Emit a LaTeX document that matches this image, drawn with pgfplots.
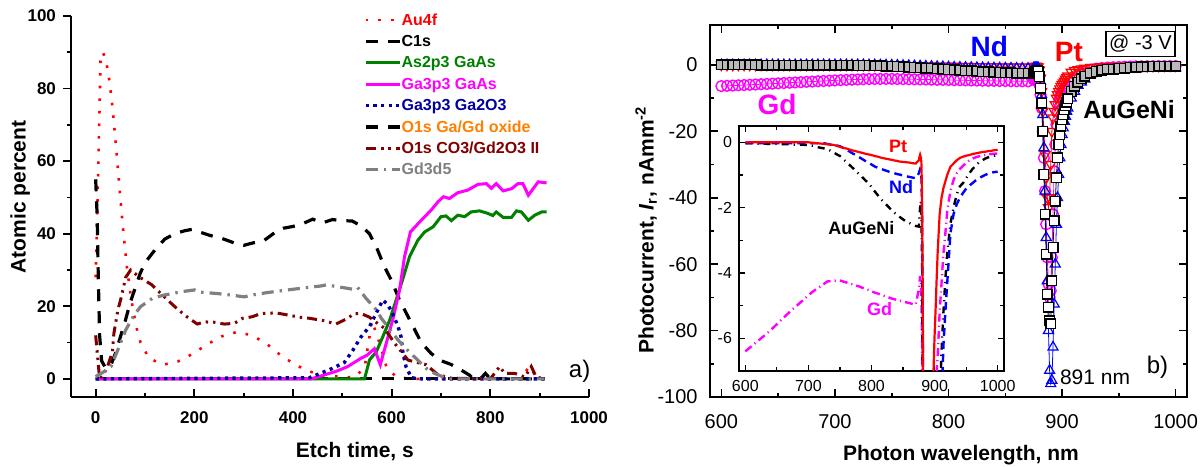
\documentclass[border=0pt]{standalone}
\usepackage{fontspec}
\setmainfont{Liberation Sans}
\usepackage{pgfplots}
\pgfplotsset{compat=1.18}
\usepackage{pgfplotstable}

\definecolor{cred}{RGB}{255,0,0}
\definecolor{cgreen}{RGB}{0,128,0}
\definecolor{cmag}{RGB}{255,0,255}
\definecolor{cnavy}{RGB}{0,0,160}
\definecolor{corange}{RGB}{255,128,0}
\definecolor{cdred}{RGB}{128,0,0}
\definecolor{cgray}{RGB}{128,128,128}
\definecolor{cblue}{RGB}{0,0,255}

% photocurrent, nA/mm^2 : Pt, Nd, AuGeNi, Gd
\pgfplotstableread{
wl Pt Nd Au Gd
600 0 -0.03 -0.03 -6.40
605 0 -0.03 -0.03 -6.32
610 0 -0.03 -0.03 -6.24
615 0 -0.03 -0.04 -6.16
620 0 -0.03 -0.04 -6.08
625 0 -0.03 -0.04 -6.00
630 0 -0.03 -0.04 -5.92
635 0 -0.03 -0.05 -5.84
640 0 -0.03 -0.05 -5.75
645 0 -0.03 -0.05 -5.66
650 0 -0.03 -0.05 -5.57
655 0 -0.03 -0.05 -5.47
660 0 -0.03 -0.06 -5.38
665 0 -0.03 -0.06 -5.29
670 0 -0.03 -0.06 -5.20
675 0 -0.03 -0.07 -5.11
680 0 -0.03 -0.07 -5.03
685 0 -0.03 -0.07 -4.94
690 0 -0.03 -0.07 -4.86
695 0 -0.03 -0.08 -4.77
700 0 -0.03 -0.08 -4.69
705 -0.01 -0.03 -0.10 -4.60
710 -0.02 -0.03 -0.12 -4.53
715 -0.03 -0.03 -0.15 -4.46
720 -0.04 -0.03 -0.17 -4.40
725 -0.05 -0.03 -0.19 -4.33
730 -0.06 -0.05 -0.21 -4.26
735 -0.07 -0.07 -0.26 -4.25
740 -0.08 -0.08 -0.31 -4.24
745 -0.11 -0.10 -0.37 -4.23
750 -0.14 -0.12 -0.42 -4.23
755 -0.17 -0.17 -0.51 -4.26
760 -0.19 -0.23 -0.60 -4.29
765 -0.22 -0.28 -0.69 -4.32
770 -0.25 -0.34 -0.78 -4.35
775 -0.27 -0.39 -0.87 -4.38
780 -0.30 -0.45 -0.97 -4.41
785 -0.32 -0.51 -1.06 -4.45
790 -0.35 -0.57 -1.16 -4.49
795 -0.37 -0.62 -1.25 -4.52
800 -0.39 -0.68 -1.37 -4.56
805 -0.42 -0.74 -1.50 -4.60
810 -0.44 -0.78 -1.62 -4.63
815 -0.47 -0.81 -1.74 -4.67
820 -0.49 -0.85 -1.84 -4.70
825 -0.51 -0.88 -1.94 -4.73
830 -0.53 -0.92 -2.04 -4.77
835 -0.55 -0.94 -2.14 -4.80
840 -0.57 -0.97 -2.21 -4.82
845 -0.59 -0.99 -2.29 -4.85
850 -0.60 -1.02 -2.36 -4.87
855 -0.61 -1.04 -2.43 -4.90
860 -0.62 -1.06 -2.47 -4.92
865 -0.64 -1.08 -2.52 -4.95
870 -0.65 -1.10 -2.56 -4.97
875 -0.55 -0.95 -2.58 -4.50
876 -0.45 -0.88 -2.30 -4.30
877 -0.38 -0.82 -2.00 -4.10
878 -0.45 -0.85 -1.80 -4.30
879 -0.60 -0.95 -2.00 -4.70
880 -1.5 -2 -3.5 -6
881 -4 -5 -7 -9
882 -8 -9 -11.5 -13
883 -14 -15 -20 -20
884 -20 -25 -33 -28
885 -27 -38 -45 -38
886 -34 -52 -57 -48
887 -40 -65 -69 -58
888 -43 -80 -73 -66
889 -40 -92 -77 -70
890 -30 -96 -78 -68
891 -20 -95 -65 -58
892 -16 -85 -55 -45
893 -14 -72 -47 -32
894 -12 -60 -41 -24
895 -10 -48 -34 -18
896 -9 -40 -28 -14
897 -8 -33 -24 -11.5
898 -7.2 -28 -21 -10
899 -6.5 -24 -18.5 -9
900 -5.9 -21 -16.5 -8.3
901 -5.4 -19 -15 -7.8
902 -4.9 -17 -13.5 -7.4
903 -4.3 -15.5 -12.3 -7.1
904 -3.8 -14 -11.2 -6.8
905 -3.3 -13 -10.2 -6.5
908 -2.2 -10 -8 -5.2
911 -1.7 -8 -6.4 -4.3
914 -1.4 -6.2 -5.2 -3.4
917 -1.2 -5.2 -4.2 -2.8
920 -1.0 -4.3 -3.4 -2.1
925 -0.75 -2.8 -2.5 -1.5
930 -0.65 -2.2 -2.0 -1.15
935 -0.55 -1.9 -1.6 -0.95
940 -0.48 -1.7 -1.35 -0.82
945 -0.44 -1.55 -1.25 -0.72
950 -0.41 -1.42 -1.1 -0.63
955 -0.39 -1.33 -0.95 -0.55
960 -0.36 -1.25 -0.82 -0.5
965 -0.34 -1.17 -0.72 -0.46
970 -0.32 -1.1 -0.62 -0.43
975 -0.30 -1.05 -0.56 -0.41
980 -0.29 -1.0 -0.5 -0.39
985 -0.27 -0.96 -0.46 -0.37
990 -0.26 -0.93 -0.43 -0.36
995 -0.24 -0.91 -0.41 -0.35
1000 -0.23 -0.9 -0.39 -0.34
}\photo

\tikzset{
  au/.style={cred, line width=1.3pt, dash pattern=on 1.3pt off 5pt},
  cs/.style={black, line width=1.6pt, dash pattern=on 6pt off 5pt},
  as/.style={cgreen, line width=1.5pt},
  gaas/.style={cmag, line width=1.5pt},
  gao/.style={cnavy, line width=1.7pt, dash pattern=on 1.6pt off 2.2pt},
  oxo/.style={black, line width=1.6pt, dash pattern=on 6pt off 5pt},
  co3/.style={cdred, line width=1.5pt, dash pattern=on 5pt off 2.5pt on 1.2pt off 2.5pt on 1.2pt off 2.5pt},
  gdd/.style={cgray, line width=1.6pt, dash pattern=on 6pt off 3pt on 1.2pt off 3pt},
}

\begin{document}
\begin{tikzpicture}
\path[use as bounding box] (0,0) rectangle (601pt,233pt);

% ---------- panel a) ----------
\begin{axis}[
  at={(35.5pt,34.5pt)}, anchor=south west, scale only axis,
  width=259pt, height=190.5pt,
  xmin=-50, xmax=1000, ymin=-5, ymax=100,
  axis x line=bottom, axis y line=left,
  axis line style={-, line width=1pt},
  xtick={0,200,...,1000}, ytick={0,20,...,100},
  minor x tick num=1, minor y tick num=1,
  tick align=inside, major tick length=3.8pt, minor tick length=2.2pt,
  tick style={line width=0.9pt, black},
  major y tick style={xshift=-3.8pt}, minor y tick style={xshift=-2.2pt},
  /pgf/number format/assume math mode=true, /pgf/number format/1000 sep={},
  ticklabel style={font=\bfseries\fontsize{8.5}{10}\selectfont},
  xticklabel style={yshift=-4pt}, yticklabel style={xshift=-4pt},
  xlabel={Etch time, s}, ylabel={Atomic percent},
  label style={font=\bfseries\fontsize{10.5}{12}\selectfont},
  xlabel style={at={(axis description cs:0.548,-0.142)}, anchor=center},
  ylabel style={at={(axis description cs:-0.098,0.525)}, anchor=center},
  clip mode=individual,
  legend cell align=left,
  legend style={at={(axis description cs:0.565,1.014)}, anchor=north west,
    draw=none, fill=none, inner sep=0pt, row sep=1.7pt,
    font=\bfseries\fontsize{8}{9.6}\selectfont,
    nodes={inner sep=0pt, text height=7pt, text depth=2pt, xshift=3pt}},
]
\addlegendimage{au}\addlegendentry{\textcolor{cred}{Au4f}}
\addlegendimage{cs}\addlegendentry{\textcolor{black}{C1s}}
\addlegendimage{as}\addlegendentry{\textcolor{cgreen}{As2p3 GaAs}}
\addlegendimage{gaas}\addlegendentry{\textcolor{cmag}{Ga3p3 GaAs}}
\addlegendimage{gao}\addlegendentry{\textcolor{cnavy}{Ga3p3 Ga2O3}}
\addlegendimage{oxo}\addlegendentry{\textcolor{corange}{O1s Ga/Gd oxide}}
\addlegendimage{co3}\addlegendentry{\textcolor{cdred}{O1s CO3/Gd2O3 II}}
\addlegendimage{gdd}\addlegendentry{\textcolor{cgray}{Gd3d5}}

\addplot[au, forget plot] coordinates {
(0,28)(5,56)(10,89)(15,90)(22,87)(28,82)(34,75)(40,66)(45,58)(50,50)(55,42)
(61,34)(64,30)(72,22)(83,14)(91,10)(108,5.7)(137,3.9)(167,4.8)(198,7)(227,9.6)
(257,11.8)(286,12.9)(317,12)(347,9.6)(376,6.4)(407,3.7)(437,1.9)(466,1)(495,0.6)
(524,0.4)(545,3)(560,16)(575,10)(590,3)(610,0.5)(640,0)(700,0)(760,0)(820,0)
(860,0)(880,3.5)(895,0)(910,0)};
\addplot[cs, forget plot] coordinates {
(0,55)(3,45)(5,30)(8,12)(12,5)(20,3)(30,3.5)(40,7)(50,11.5)(60,16)(70,21)(80,25)
(90,29)(100,32)(120,35.5)(140,38.5)(160,40)(180,40.8)(195,41.2)(210,40.5)
(230,39.6)(260,38.5)(280,37.5)(300,36.8)(320,37.5)(340,38)(360,40)(380,41.5)
(400,42)(420,42.8)(440,44)(460,43)(480,43.9)(500,43.6)(520,43.5)(540,42)(555,40)
(570,36)(585,31)(600,27)(615,22)(630,18)(645,14)(660,10)(680,7)(700,5)(720,4)
(740,2.5)(758,1)(765,0)(780,0)(790,1.5)(800,0)(910,0)};
\addplot[oxo, forget plot] coordinates {(0,0)(910,0)};
\addplot[as, forget plot] coordinates {
(0,0)(545,0)(555,5.2)(569,7.5)(582,11.6)(596,16.2)(609,21.7)(623,27.7)(636,33.6)
(653,38.2)(667,40.5)(684,41.9)(692,43.3)(700,44.7)(710,44.9)(721,43.6)(734,45.1)
(748,44.7)(761,46)(778,46.3)(795,45.6)(805,45)(812,46)(826,44.5)(843,44.5)
(853,46.3)(863,46)(877,43.7)(890,45.1)(904,46)(914,46)};
\addplot[gaas, forget plot] coordinates {
(0,0)(437,0)(464,1.1)(490,2.2)(511,3.4)(538,5.7)(550,6.5)(565,8.3)(577,3.9)
(589,9.8)(602,16.2)(616,24.5)(626,33.6)(638,40.5)(660,43.7)(680,46.5)(694,48.8)
(705,50.2)(717,49.7)(734,51.3)(754,52)(775,53.6)(792,53.8)(802,52.5)(812,53.8)
(826,51.8)(843,52.4)(856,53.8)(866,53.8)(877,50.6)(897,54.3)(914,54)};
\addplot[gao, forget plot] coordinates {
(0,0)(433,0.3)(457,1.6)(480,2.9)(504,4.5)(521,7.8)(538,11.6)(555,14.4)(572,19)
(582,21.7)(592,20.5)(602,18)(613,14.4)(619,11.6)(623,7)(629,3.4)(640,0.3)(660,0)
(910,0)};
\addplot[co3, forget plot] coordinates {
(0,12)(2,9)(8,0)(15,1)(24,3.4)(34,7.5)(37,12.6)(45,19)(51,22)(61,28)(71,30)
(80,29)(95,27.5)(113,26)(146,21.7)(166,19.2)(186,17)(206,15.1)(220,15.7)
(240,15.6)(261,15.1)(281,15.3)(298,16.7)(317,17.1)(335,18)(365,18.2)(389,17.6)
(413,17)(433,16.7)(464,16)(487,15.1)(511,16.7)(524,18)(538,18)(555,17)(575,14.9)
(585,14)(606,9.8)(633,5.2)(643,4.8)(670,3.9)(694,1.1)(721,0.2)(800,0)(819,3.4)
(829,1.5)(850,1.5)(870,0.5)(883,3.4)(893,0.5)(910,0)};
\addplot[gdd, forget plot] coordinates {
(0,0.6)(17,2)(31,3.4)(45,8)(61,13.5)(78,17.6)(91,19.9)(115,22.2)(139,23.1)
(173,24)(200,24.5)(213,23.9)(247,23.5)(274,23.1)(301,22.6)(321,23.2)(349,23.8)
(389,24.5)(430,25.2)(457,25.6)(467,25.9)(490,25.4)(521,24.7)(531,25.2)(548,22.2)
(569,19)(579,16.7)(613,10.7)(629,8.3)(670,2.9)(687,1.5)(714,0)(910,0)};
\node[font=\fontsize{12}{14}\selectfont] at (axis cs:981,2) {a)};
\end{axis}

% ---------- panel b) ----------
\begin{axis}[
  at={(355pt,34.5pt)}, anchor=south west, scale only axis,
  width=238.5pt, height=186pt,
  xmin=590, xmax=1010, ymin=-100, ymax=12,
  axis line style={line width=1pt},
  xtick={600,700,...,1000}, ytick={-100,-80,...,0},
  minor x tick num=1, minor y tick num=1,
  tick align=inside, major tick length=3.8pt, minor tick length=2.2pt,
  tick style={line width=0.8pt, black},
  /pgf/number format/assume math mode=true, /pgf/number format/1000 sep={},
  ticklabel style={font=\fontsize{10}{12}\selectfont},
  xticklabel style={yshift=-5pt}, yticklabel style={xshift=-2.7pt},
  xlabel={Photon wavelength, nm},
  ylabel={Photocurrent, \textit{I}\textsubscript{r}, nAmm\textsuperscript{-2}},
  label style={font=\bfseries\fontsize{10.5}{12}\selectfont},
  xlabel style={at={(axis description cs:0.526,-0.156)}, anchor=center},
  ylabel style={at={(axis description cs:-0.134,0.449)}, anchor=center},
  clip mode=individual,
]
\addplot[cmag, line width=0.4pt, mark=o, mark size=2.7pt,
  mark options={solid, line width=0.7pt}] table[x=wl, y=Gd] {\photo};
\addplot[cred, line width=0.4pt, mark=triangle, mark size=2.9pt,
  mark options={solid, rotate=180, line width=0.6pt}] table[x=wl, y=Pt] {\photo};
\addplot[cblue, line width=0.4pt, mark=triangle, mark size=2.9pt,
  mark options={solid, line width=0.6pt}] table[x=wl, y=Nd] {\photo};
% AuGeNi: dense flat parts look dark, the dip squares are open
\addplot[black, line width=0.4pt, mark=square*, mark size=2.4pt,
  mark options={solid, fill=gray!55, draw=black, line width=0.7pt},
  restrict x to domain=599:879.5] table[x=wl, y=Au] {\photo};
\addplot[black, line width=0.4pt, mark=square*, mark size=2.4pt,
  mark options={solid, fill=gray!55, draw=black, line width=0.7pt},
  restrict x to domain=906:1001] table[x=wl, y=Au] {\photo};
\addplot[black, line width=0.4pt, mark=square*, mark size=2.4pt,
  mark options={solid, fill=white, draw=black, line width=0.7pt},
  restrict x to domain=879:906] table[x=wl, y=Au] {\photo};
\node[cblue, font=\bfseries\fontsize{14}{16}\selectfont] at (axis cs:836,5.4) {Nd};
\node[cred, font=\bfseries\fontsize{14}{16}\selectfont] at (axis cs:906,3.9) {Pt};
\node[cmag, font=\bfseries\fontsize{14}{16}\selectfont] at (axis cs:649,-12) {Gd};
\node[black, font=\bfseries\fontsize{12.5}{14}\selectfont] at (axis cs:959,-13.5) {AuGeNi};
\node[draw, line width=0.8pt, fill=white, font=\fontsize{10}{12}\selectfont,
  minimum width=34.5pt, minimum height=12.5pt, inner sep=1pt] at (axis cs:969,6.3) {@ -3 V};
\node[font=\fontsize{10.5}{12}\selectfont] at (axis cs:929,-94) {891 nm};
\node[font=\fontsize{12}{14}\selectfont] at (axis cs:984,-91) {b)};
\end{axis}

% ---------- inset ----------
\begin{axis}[
  at={(369.5pt,47.5pt)}, anchor=south west, scale only axis,
  width=132.5pt, height=122.5pt,
  xmin=590, xmax=1010, ymin=-7, ymax=0.5,
  axis background/.style={fill=white},
  axis line style={line width=0.8pt},
  xtick={600,700,...,1000}, ytick={-6,-4,-2,0},
  minor x tick num=1, minor y tick num=1,
  tick align=inside, major tick length=3pt, minor tick length=1.8pt,
  tick style={line width=0.6pt, black},
  /pgf/number format/assume math mode=true, /pgf/number format/1000 sep={},
  ticklabel style={font=\fontsize{8}{9.5}\selectfont},
  xticklabel style={yshift=-1pt},
  clip mode=individual,
]
\addplot[cmag, line width=1.2pt, dash pattern=on 4pt off 2pt on 0.6pt off 2pt] table[x=wl, y=Gd] {\photo};
\addplot[black, line width=1.2pt, dash pattern=on 3.5pt off 2.5pt on 0.6pt off 2.5pt] table[x=wl, y=Au] {\photo};
\addplot[cblue, line width=1.2pt, dash pattern=on 4pt off 2.5pt] table[x=wl, y=Nd] {\photo};
\addplot[cred, line width=1.1pt] table[x=wl, y=Pt] {\photo};
\node[cred, font=\bfseries\fontsize{9}{11}\selectfont] at (axis cs:842,-0.13) {Pt};
\node[cblue, font=\bfseries\fontsize{9}{11}\selectfont] at (axis cs:847,-1.37) {Nd};
\node[black, font=\bfseries\fontsize{9}{11}\selectfont] at (axis cs:784,-2.63) {AuGeNi};
\node[cmag, font=\bfseries\fontsize{9}{11}\selectfont] at (axis cs:813,-5.12) {Gd};
\end{axis}
\end{tikzpicture}
\end{document}
